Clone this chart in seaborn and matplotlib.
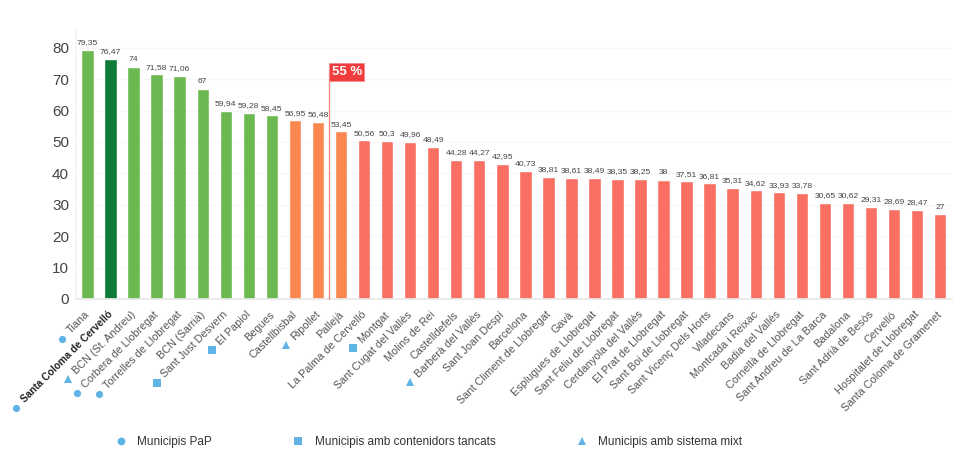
import matplotlib
matplotlib.use("Agg")
import matplotlib.pyplot as plt
from matplotlib.lines import Line2D
from matplotlib.transforms import IdentityTransform, ScaledTranslation
import seaborn as sns

municipis = ["Tiana", "Santa Coloma de Cervelló", "BCN (St. Andreu)", "Corbera de Llobregat",
             "Torrelles de Llobregat", "BCN (Sarrià)", "Sant Just Desvern", "El Papiol", "Begues",
             "Castellbisbal", "Ripollet", "Pallejà", "La Palma de Cervelló", "Montgat",
             "Sant Cugat del Vallès", "Molins de Rei", "Castelldefels", "Barberà del Vallès",
             "Sant Joan Despí", "Barcelona", "Sant Climent de Llobregat", "Gavà",
             "Esplugues de Llobregat", "Sant Feliu de Llobregat", "Cerdanyola del Vallès",
             "El Prat de Llobregat", "Sant Boi de Llobregat", "Sant Vicenç Dels Horts",
             "Viladecans", "Montcada i Reixac", "Badia del Vallès", "Cornellà de Llobregat",
             "Sant Andreu de La Barca", "Badalona", "Sant Adrià de Besòs", "Cervelló",
             "Hospitalet de Llobregat", "Santa Coloma de Gramenet"]
valors = [79.35, 76.47, 74, 71.58, 71.06, 67, 59.94, 59.28, 58.45, 56.95, 56.48, 53.45, 50.56,
          50.3, 49.96, 48.49, 44.28, 44.27, 42.95, 40.73, 38.81, 38.61, 38.49, 38.35, 38.25, 38,
          37.51, 36.81, 35.31, 34.62, 33.93, 33.78, 30.65, 30.62, 29.31, 28.69, 28.47, 27]
grups = ["g", "d", "g", "g", "g", "g", "g", "g", "g", "o", "o", "o"] + ["r"] * 26
colors_grup = {"g": "#6cb951", "d": "#0f7b38", "o": "#fb8750", "r": "#f96f63"}
marcadors = {"Tiana": "o", "Santa Coloma de Cervelló": "o", "BCN (St. Andreu)": "^",
             "Corbera de Llobregat": "o", "Torrelles de Llobregat": "o", "Sant Just Desvern": "s",
             "El Papiol": "s", "Ripollet": "^", "Montgat": "s", "Barberà del Vallès": "^"}
llegenda = [("o", "Municipis PaP"), ("s", "Municipis amb contenidors tancats"),
            ("^", "Municipis amb sistema mixt")]
yticks = [0, 10, 20, 30, 40, 50, 60, 70, 80]
llindar_x = 10.5
llindar_text = "55 %"

sns.set_theme(style="white")
plt.rcParams["font.family"] = ["Liberation Sans", "DejaVu Sans"]

W, H = 967, 451
fig = plt.figure(figsize=(W / 100, H / 100), dpi=100)
ax = fig.add_axes([76 / W, 1 - 299 / H, (951.6 - 76) / W, (299 - 31) / H])

sns.barplot(x=municipis, y=valors, hue=municipis, palette=[colors_grup[g] for g in grups],
            legend=False, width=0.54, ax=ax, saturation=1, dodge=False)
ax.set_xlim(-0.5, len(municipis) - 0.5)
ax.set_ylim(0, 85.35)
ax.set_yticks(yticks)
ax.grid(axis="y", color="#f6f6f6", lw=0.8)
ax.set_axisbelow(True)
for s in ["top", "right"]:
    ax.spines[s].set_visible(False)
ax.spines["left"].set_color("#f4f4f4")
ax.spines["bottom"].set_color("#e8e8e8")
ax.tick_params(axis="y", labelsize=11, labelcolor="#444444", length=0, pad=5)

# category separators as ticks on the boundaries
ax.set_xticks([i + 0.5 for i in range(len(municipis))], minor=True)
ax.tick_params(axis="x", which="minor", length=5, color="#eeeeee", width=0.8)
ax.tick_params(axis="x", which="major", length=0, pad=7.5)
ax.set_xticks(range(len(municipis)))
ax.set_xticklabels(municipis, rotation=45, ha="right", rotation_mode="anchor",
                   fontsize=7.8, color="#555555")
ax.get_xticklabels()[1].set_fontweight("bold")
ax.get_xticklabels()[1].set_fontsize(7.3)
ax.get_xticklabels()[1].set_color("#222222")
desplacament = ScaledTranslation(-3 / 100, 0, fig.dpi_scale_trans)
for etiqueta in ax.get_xticklabels():
    etiqueta.set_transform(etiqueta.get_transform() + desplacament)

for i, v in enumerate(valors):
    ax.annotate(f"{v:g}".replace(".", ","), (i, v), xytext=(0, 2.6), textcoords="offset points",
                ha="center", va="bottom", fontsize=6.1, color="#444444")

ax.plot([llindar_x, llindar_x], [0, 72.3], color="#f58a8a", lw=1, clip_on=False, zorder=4)
ax.annotate(llindar_text, (llindar_x, 72.3), xytext=(1.5, 0), textcoords="offset points",
            ha="left", va="center", fontsize=9.5, fontweight="bold", color="white", zorder=5,
            bbox=dict(boxstyle="square,pad=0.2", fc="#f03c3c", ec="#f58a8a", lw=0.6))

fig.canvas.draw()
for etiqueta in ax.get_xticklabels():
    m = marcadors.get(etiqueta.get_text())
    if m:
        bb = etiqueta.get_window_extent()
        ax.plot([bb.x0 - 3], [bb.y0 - 3], marker=m, ms=5.2, color="#5fb4e5", mew=0, ls="none",
                transform=IdentityTransform(), clip_on=False)

handles = [Line2D([], [], marker=m, ls="none", color="#5fb4e5", mew=0, ms=5.6) for m, _ in llegenda]
fig.legend(handles, [t for _, t in llegenda], ncol=3, frameon=False, fontsize=8.45,
           labelcolor="#333333", loc="center", bbox_to_anchor=(428.5 / W, 1 - 442 / H),
           columnspacing=6.85, handletextpad=0.9, handlelength=1)

fig.savefig("out.png", dpi=100)
